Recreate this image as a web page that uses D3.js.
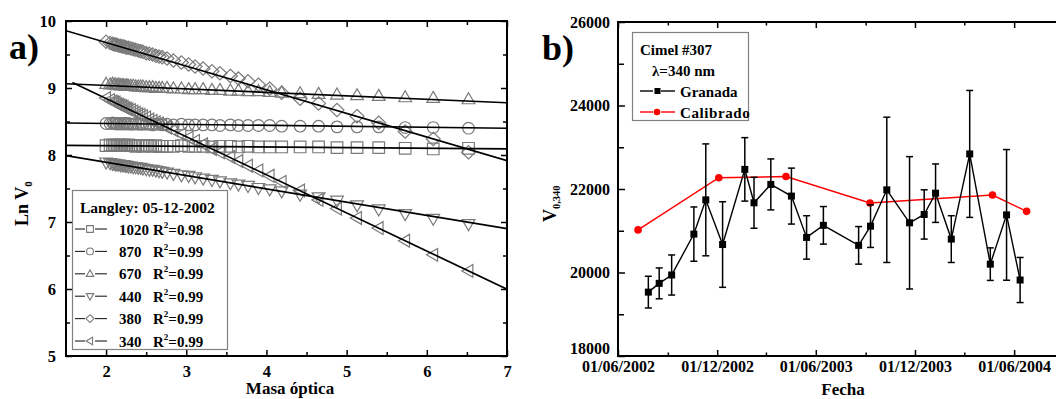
<!DOCTYPE html>
<html><head><meta charset="utf-8">
<script src="https://cdn.jsdelivr.net/npm/d3@7"></script>
<style>
body{margin:0;background:#fff;}
svg{display:block;font-family:"Liberation Serif","Times New Roman",serif;font-weight:bold;}
</style></head><body>
<svg id="chart" width="1056" height="399"></svg>
<script>
// ---------- Panel a): Langley plots, 05-12-2002 ----------
const airMass = [2.00,2.05,2.08,2.10,2.12,2.14,2.16,2.18,2.20,2.22,2.24,2.26,2.28,2.31,2.34,2.37,2.40,2.43,2.46,2.50,2.54,2.58,2.62,2.66,2.70,2.76,2.84,2.94,3.03,3.11,3.21,3.32,3.42,3.55,3.65,3.77,3.90,4.04,4.19,4.42,4.65,4.88,5.13,5.40,5.73,6.08,6.52];
const ln1020 = [8.14,8.15,8.14,8.15,8.14,8.14,8.15,8.14,8.14,8.15,8.14,8.14,8.15,8.14,8.14,8.13,8.14,8.14,8.13,8.14,8.14,8.13,8.14,8.13,8.13,8.13,8.13,8.14,8.13,8.13,8.13,8.12,8.13,8.13,8.12,8.13,8.12,8.12,8.12,8.12,8.12,8.11,8.11,8.11,8.10,8.09,8.10];
const ln870 = [8.47,8.47,8.48,8.47,8.47,8.46,8.47,8.47,8.46,8.47,8.47,8.46,8.47,8.46,8.46,8.47,8.46,8.46,8.46,8.46,8.46,8.45,8.46,8.46,8.45,8.46,8.45,8.46,8.45,8.45,8.45,8.45,8.44,8.45,8.44,8.44,8.44,8.44,8.43,8.43,8.43,8.42,8.42,8.42,8.41,8.41,8.40];
const ln670 = [9.06,9.05,9.06,9.05,9.05,9.04,9.05,9.04,9.04,9.04,9.03,9.04,9.03,9.03,9.03,9.02,9.02,9.02,9.02,9.01,9.01,9.01,9.00,9.00,9.00,9.00,8.99,8.99,8.98,8.98,8.98,8.97,8.97,8.96,8.96,8.95,8.95,8.94,8.93,8.92,8.91,8.90,8.89,8.88,8.86,8.85,8.83];
const ln440 = [7.89,7.88,7.87,7.87,7.86,7.86,7.86,7.85,7.85,7.85,7.84,7.84,7.83,7.83,7.82,7.82,7.81,7.81,7.80,7.79,7.78,7.78,7.77,7.76,7.75,7.74,7.72,7.70,7.69,7.67,7.65,7.63,7.61,7.58,7.56,7.54,7.51,7.49,7.46,7.41,7.37,7.32,7.25,7.19,7.12,7.05,6.97];
const ln380 = [9.69,9.67,9.66,9.65,9.65,9.64,9.63,9.63,9.62,9.62,9.61,9.60,9.60,9.59,9.58,9.57,9.56,9.55,9.54,9.52,9.51,9.50,9.48,9.47,9.46,9.44,9.41,9.38,9.35,9.32,9.29,9.25,9.22,9.18,9.14,9.10,9.05,8.99,8.93,8.84,8.77,8.67,8.58,8.48,8.35,8.24,8.04];
const ln340 = [8.85,8.82,8.80,8.79,8.78,8.76,8.75,8.74,8.73,8.72,8.70,8.69,8.68,8.67,8.65,8.63,8.61,8.60,8.58,8.56,8.53,8.51,8.49,8.47,8.45,8.41,8.37,8.31,8.26,8.21,8.16,8.09,8.04,7.97,7.91,7.84,7.77,7.69,7.60,7.47,7.33,7.20,7.06,6.91,6.72,6.51,6.27];

const wavelengths = ["1020","870","670","440","380","340"];
const r2Values = ["0.98","0.99","0.99","0.99","0.99","0.99"];
const markerKinds = ["square","circle","triangleUp","triangleDown","diamond","triangleLeft"];
const fitIntercept = [8.16, 8.499, 9.141, 8.287, 10.384, 9.98];
const fitSlope = [-0.010, -0.0142, -0.0516, -0.198, -0.3527, -0.569];
const fitFrom = [1.5, 1.5, 1.5, 1.5, 1.5, 1.58];
const fitTo = 7;
const lnSeries = [ln1020, ln870, ln670, ln440, ln380, ln340];

const xTicksA = [2,3,4,5,6,7];
const xMinorA = [2.5,3.5,4.5,5.5,6.5];
const yTicksA = [5,6,7,8,9,10];
const yMinorA = [5.5,6.5,7.5,8.5,9.5];

// ---------- Panel b): V0 at 340 nm, Cimel #307 ----------
const granadaDates = ["2002-07-27","2002-08-16","2002-09-08","2002-10-19","2002-11-10","2002-12-11","2003-01-21","2003-02-07","2003-03-10","2003-04-17","2003-05-15","2003-06-15","2003-08-19","2003-09-10","2003-10-10","2003-11-21","2003-12-18","2004-01-08","2004-02-06","2004-03-11","2004-04-18","2004-05-18","2004-06-12"];
const granadaV0 = [19530,19740,19940,20920,21740,20670,22470,21670,22110,21830,20840,21130,20650,21110,21980,21190,21390,21900,20800,22840,20200,21380,19820];
const granadaErr = [380,370,480,650,1340,1025,760,610,610,670,520,450,450,510,1740,1585,590,700,560,1520,390,1565,540];
const calibDates = ["2002-07-08","2002-12-04","2003-04-07","2003-09-09","2004-04-22","2004-06-24"];
const calibV0 = [21020,22270,22300,21665,21855,21465];

const xMajorB = ["2002-06-01","2002-12-01","2003-06-01","2003-12-01","2004-06-01"];
const xMinorB = ["2002-09-01","2003-03-01","2003-09-01","2004-03-01"];
const yTicksB = [18000,20000,22000,24000,26000];
const yMinorB = [19000,21000,23000,25000];

const svg = d3.select("#chart");
const parse = d3.timeParse("%Y-%m-%d");
const intFmt = d3.format("d");

// shape paths centred on the data point
function markerPath(kind, s) {
  switch (kind) {
    case "square": return `M${-s},${-s}H${s}V${s}H${-s}Z`;
    case "triangleUp": return `M0,${-1.15*s}L${1.1*s},${0.75*s}L${-1.1*s},${0.75*s}Z`;
    case "triangleDown": return `M0,${1.15*s}L${1.1*s},${-0.75*s}L${-1.1*s},${-0.75*s}Z`;
    case "triangleLeft": return `M${-1.15*s},0L${0.75*s},${-1.1*s}L${0.75*s},${1.1*s}Z`;
    case "diamond": return `M0,${-1.15*s}L${1.2*s},0L0,${1.15*s}L${-1.2*s},0Z`;
  }
}
function drawMarker(g, kind, cx, cy, s) {
  if (kind === "circle") return g.append("circle").attr("cx", cx).attr("cy", cy).attr("r", s);
  return g.append("path").attr("d", markerPath(kind, s)).attr("transform", `translate(${cx},${cy})`);
}

function styleAxis(g, fontSize) {
  g.attr("font-family", null).attr("font-size", null);
  g.select(".domain").remove();
  g.selectAll(".tick line").attr("stroke", "#000").attr("stroke-width", 1.5);
  g.selectAll("text").attr("font-size", fontSize).attr("font-weight", "bold")
    .attr("font-family", '"Liberation Serif","Times New Roman",serif').attr("fill", "#000");
}

// ================= Panel a =================
{
  const L = 66, R = 507, T = 21, B = 356;
  const x = d3.scaleLinear().domain([1.5, 7]).range([L, R]);
  const y = d3.scaleLinear().domain([5, 10]).range([B, T]);
  const g = svg.append("g");

  const clipId = "clipA";
  svg.append("clipPath").attr("id", clipId).append("rect").attr("x", L).attr("y", T).attr("width", R - L).attr("height", B - T);

  const plot = g.append("g").attr("clip-path", `url(#${clipId})`);
  // measured points
  lnSeries.forEach((vals, i) => {
    const mg = plot.append("g").attr("fill", "none").attr("stroke", "#7a7a7a").attr("stroke-width", 1.2);
    vals.forEach((v, j) => drawMarker(mg, markerKinds[i], x(airMass[j]), y(v), 5.8));
  });
  // linear fits
  lnSeries.forEach((vals, i) => {
    const pts = [fitFrom[i], fitTo].map(m => [x(m), y(fitIntercept[i] + fitSlope[i] * m)]);
    plot.append("path").attr("d", d3.line()(pts)).attr("stroke", "#000").attr("stroke-width", 1.7).attr("fill", "none");
  });

  // axes, ticks pointing inward
  const ax = [
    [d3.axisBottom(x).tickValues(xTicksA).tickSizeInner(-6).tickSizeOuter(0).tickPadding(9).tickFormat(intFmt), `translate(0,${B})`],
    [d3.axisBottom(x).tickValues(xMinorA).tickSizeInner(-4).tickSizeOuter(0).tickFormat(""), `translate(0,${B})`],
    [d3.axisTop(x).tickValues(xTicksA).tickSizeInner(-6).tickSizeOuter(0).tickFormat(""), `translate(0,${T})`],
    [d3.axisTop(x).tickValues(xMinorA).tickSizeInner(-4).tickSizeOuter(0).tickFormat(""), `translate(0,${T})`],
    [d3.axisLeft(y).tickValues(yTicksA).tickSizeInner(-6).tickSizeOuter(0).tickPadding(10).tickFormat(intFmt), `translate(${L},0)`],
    [d3.axisLeft(y).tickValues(yMinorA).tickSizeInner(-4).tickSizeOuter(0).tickFormat(""), `translate(${L},0)`],
    [d3.axisRight(y).tickValues(yTicksA).tickSizeInner(-6).tickSizeOuter(0).tickFormat(""), `translate(${R},0)`],
    [d3.axisRight(y).tickValues(yMinorA).tickSizeInner(-4).tickSizeOuter(0).tickFormat(""), `translate(${R},0)`]
  ];
  ax.forEach(([a, tr]) => styleAxis(g.append("g").attr("transform", tr).call(a), 16.5));

  g.append("rect").attr("x", L).attr("y", T).attr("width", R - L).attr("height", B - T)
    .attr("fill", "none").attr("stroke", "#000").attr("stroke-width", 2);

  // legend
  const lg = g.append("g");
  lg.append("rect").attr("x", 72.5).attr("y", 190.5).attr("width", 155).attr("height", 159)
    .attr("fill", "#fff").attr("stroke", "#808080").attr("stroke-width", 1.2);
  lg.append("text").attr("x", 80).attr("y", 213).attr("font-size", 15.5).text("Langley: 05-12-2002");
  wavelengths.forEach((w, i) => {
    const cy = 229 + i * 22.4;
    lg.append("line").attr("x1", 75).attr("x2", 85).attr("y1", cy).attr("y2", cy).attr("stroke", "#222").attr("stroke-width", 1.1);
    lg.append("line").attr("x1", 95).attr("x2", 107).attr("y1", cy).attr("y2", cy).attr("stroke", "#222").attr("stroke-width", 1.1);
    const mg = lg.append("g").attr("fill", "none").attr("stroke", "#7a7a7a").attr("stroke-width", 1.1);
    drawMarker(mg, markerKinds[i], 90, cy, 3.4);
    lg.append("text").attr("x", 119).attr("y", cy + 5.5).attr("font-size", 15).text(w);
    const t = lg.append("text").attr("x", 153).attr("y", cy + 5.5).attr("font-size", 15);
    t.append("tspan").text("R");
    t.append("tspan").attr("font-size", 9).attr("dy", -7).text("2");
    t.append("tspan").attr("dy", 7).text("=" + r2Values[i]);
  });

  // titles
  g.append("text").attr("x", 290).attr("y", 394).attr("text-anchor", "middle").attr("font-size", 17).text("Masa óptica");
  const yt = g.append("text").attr("transform", "translate(28,226) rotate(-90)").attr("font-size", 18);
  yt.append("tspan").text("Ln V");
  yt.append("tspan").attr("font-size", 11).attr("dy", 4).text("0");
  g.append("text").attr("x", 9).attr("y", 59).attr("font-size", 36).text("a)");
}

// ================= Panel b =================
{
  const L = 618, R = 1064, T = 22, B = 356;
  const x = d3.scaleTime().domain([parse("2002-06-01"), parse("2004-09-01")]).range([L, R]);
  const y = d3.scaleLinear().domain([18000, 26000]).range([B, T]);
  const g = svg.append("g");
  const fmt = d3.timeFormat("%d/%m/%Y");

  const ax = [
    [d3.axisBottom(x).tickValues(xMajorB.map(parse)).tickSizeInner(-6).tickSizeOuter(0).tickPadding(5).tickFormat(fmt), `translate(0,${B})`],
    [d3.axisBottom(x).tickValues(xMinorB.map(parse)).tickSizeInner(-3.5).tickSizeOuter(0).tickFormat(""), `translate(0,${B})`],
    [d3.axisTop(x).tickValues(xMajorB.map(parse)).tickSizeInner(-6).tickSizeOuter(0).tickFormat(""), `translate(0,${T})`],
    [d3.axisTop(x).tickValues(xMinorB.map(parse)).tickSizeInner(-3.5).tickSizeOuter(0).tickFormat(""), `translate(0,${T})`],
    [d3.axisLeft(y).tickValues(yTicksB).tickSizeInner(-7).tickSizeOuter(0).tickPadding(8).tickFormat(intFmt), `translate(${L},0)`],
    [d3.axisLeft(y).tickValues(yMinorB).tickSizeInner(-6).tickSizeOuter(0).tickFormat(""), `translate(${L},0)`]
  ];
  ax.forEach(([a, tr]) => styleAxis(g.append("g").attr("transform", tr).call(a), 16));
  // lowest value label sits slightly above the corner so the date below stays clear
  g.selectAll(".tick text").filter(d => d === 18000).attr("dy", "-0.15em");

  g.append("rect").attr("x", L).attr("y", T).attr("width", R - L).attr("height", B - T)
    .attr("fill", "none").attr("stroke", "#000").attr("stroke-width", 2);

  // calibration reference
  const calib = calibDates.map((d, i) => [x(parse(d)), y(calibV0[i])]);
  g.append("path").attr("d", d3.line()(calib)).attr("fill", "none").attr("stroke", "#ff0000").attr("stroke-width", 1.5);
  g.selectAll(".cal").data(calib).join("circle").attr("cx", d => d[0]).attr("cy", d => d[1]).attr("r", 3.8).attr("fill", "#ff0000");

  // Granada Langley values with error bars
  const gran = granadaDates.map((d, i) => ({ x: x(parse(d)), v: granadaV0[i], e: granadaErr[i] }));
  g.append("path").attr("d", d3.line().x(d => d.x).y(d => y(d.v))(gran)).attr("fill", "none").attr("stroke", "#000").attr("stroke-width", 1.4);
  const eb = g.append("g").attr("stroke", "#000").attr("stroke-width", 1.5);
  gran.forEach(d => {
    eb.append("line").attr("x1", d.x).attr("x2", d.x).attr("y1", y(d.v - d.e)).attr("y2", y(d.v + d.e));
    [d.v - d.e, d.v + d.e].forEach(v => eb.append("line").attr("x1", d.x - 3.5).attr("x2", d.x + 3.5).attr("y1", y(v)).attr("y2", y(v)));
  });
  g.selectAll(".gr").data(gran).join("rect").attr("x", d => d.x - 3.5).attr("y", d => y(d.v) - 3.5)
    .attr("width", 7).attr("height", 7).attr("fill", "#000");

  // legend
  const lg = g.append("g");
  lg.append("rect").attr("x", 632.5).attr("y", 32.5).attr("width", 116).attr("height", 88)
    .attr("fill", "#fff").attr("stroke", "#808080").attr("stroke-width", 1.2);
  lg.append("text").attr("x", 640).attr("y", 55).attr("font-size", 15).text("Cimel #307");
  lg.append("text").attr("x", 652).attr("y", 76).attr("font-size", 15).text("λ=340 nm");
  [["Granada", "#000", 91], ["Calibrado", "#ff0000", 112]].forEach(([name, col, cy], i) => {
    lg.append("line").attr("x1", 640).attr("x2", 653).attr("y1", cy).attr("y2", cy).attr("stroke", col).attr("stroke-width", 1.4);
    lg.append("line").attr("x1", 661).attr("x2", 675).attr("y1", cy).attr("y2", cy).attr("stroke", col).attr("stroke-width", 1.4);
    if (i === 0) lg.append("rect").attr("x", 654.5).attr("y", cy - 3).attr("width", 6).attr("height", 6).attr("fill", col);
    else lg.append("circle").attr("cx", 657).attr("cy", cy).attr("r", 3.3).attr("fill", col);
    lg.append("text").attr("x", 680).attr("y", cy + 5.5).attr("font-size", 15).attr("letter-spacing", i === 1 ? 0.6 : 0).text(name);
  });

  // titles
  g.append("text").attr("x", 843).attr("y", 395).attr("text-anchor", "middle").attr("font-size", 17).text("Fecha");
  const yt = g.append("text").attr("transform", "translate(556,222) rotate(-90)").attr("font-size", 18);
  yt.append("tspan").text("V");
  yt.append("tspan").attr("font-size", 10.5).attr("dy", 4).text("0,340");
  g.append("text").attr("x", 542).attr("y", 60).attr("font-size", 36).text("b)");
}
</script>
</body></html>
